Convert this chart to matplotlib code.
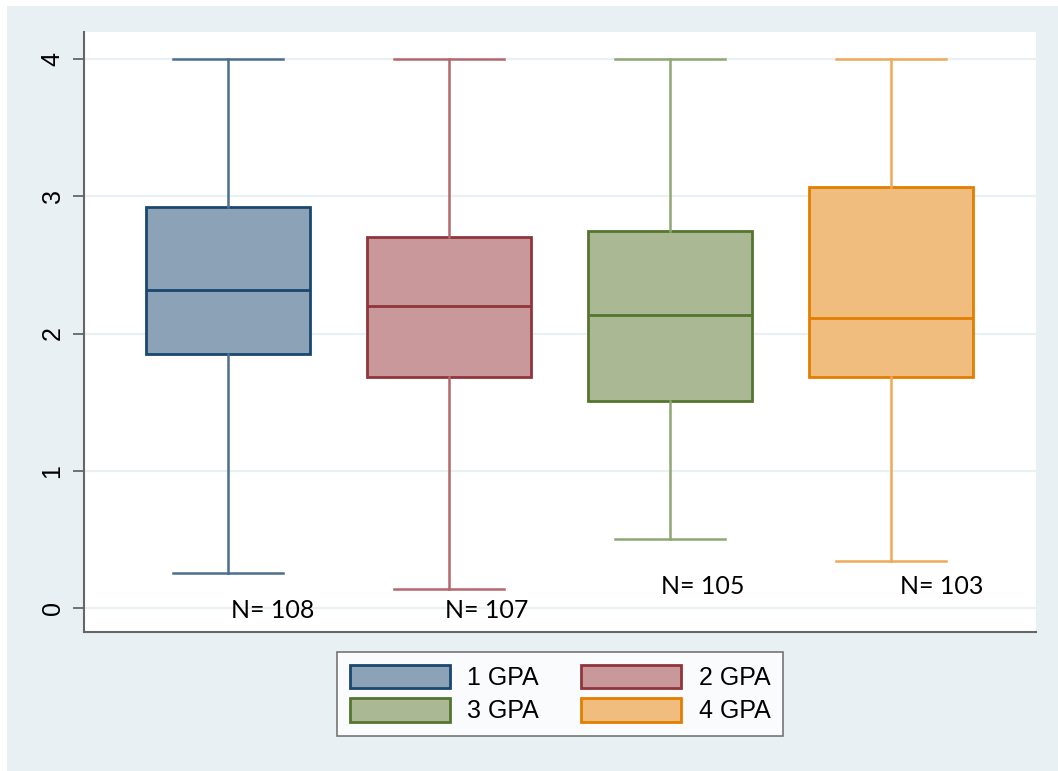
import matplotlib
matplotlib.use('Agg')
import matplotlib.pyplot as plt
from matplotlib.patches import Patch, Rectangle

# GPA distribution by group
groups = ['1 GPA', '2 GPA', '3 GPA', '4 GPA']
q1 = [1.85, 1.685, 1.51, 1.685]
med = [2.315, 2.20, 2.135, 2.115]
q3 = [2.92, 2.70, 2.745, 3.07]
whis_lo = [0.255, 0.14, 0.505, 0.34]
whis_hi = [4.0, 4.0, 4.0, 4.0]
counts = [108, 107, 105, 103]
n_label_y = [-0.02, -0.02, 0.155, 0.155]
n_label_dx = [0.2, 0.17, 0.15, 0.23]

edge_cols = ['#1a476f', '#90353b', '#55752f', '#e37e00']
fill_cols = ['#8ca2b7', '#c8989b', '#aab894', '#f0bd7f']
whisk_cols = ['#4d6d8d', '#b3686e', '#8fa675', '#f0a95a']

bg = '#e8f0f3'
fig = plt.figure(figsize=(10.58, 7.71), dpi=100)
fig.patch.set_facecolor('white')
fig.patches.append(Rectangle((7 / 1058, 0), 1, 1 - 6 / 771, transform=fig.transFigure,
                             facecolor=bg, edgecolor='none', zorder=-10))

ax = fig.add_axes([84 / 1058, 139 / 771, 952 / 1058, 600 / 771])
ax.set_facecolor('white')

for i in range(len(groups)):
    stats = [{'med': med[i], 'q1': q1[i], 'q3': q3[i],
              'whislo': whis_lo[i], 'whishi': whis_hi[i], 'fliers': []}]
    ax.bxp(stats, positions=[i + 1], widths=0.742, capwidths=0.5,
           showfliers=False, patch_artist=True,
           boxprops=dict(facecolor=fill_cols[i], edgecolor=edge_cols[i], linewidth=2),
           medianprops=dict(color=edge_cols[i], linewidth=2),
           whiskerprops=dict(color=whisk_cols[i], linewidth=1.8),
           capprops=dict(color=whisk_cols[i], linewidth=1.8),
           zorder=3)
    ax.text(i + 1 + n_label_dx[i], n_label_y[i], 'N= %d' % counts[i],
            ha='center', va='center', fontsize=18, family='Lato', zorder=4)

ax.set_xlim(0.348, 4.656)
ax.set_ylim(-0.175, 4.197)
ax.set_xticks([])
ax.set_yticks([0, 1, 2, 3, 4])
ax.set_yticklabels(['0', '1', '2', '3', '4'], rotation=90, va='center',
                   fontsize=18, family='Liberation Sans')
ax.tick_params(axis='y', length=8, width=1.3, color='#666666', pad=6)
ax.grid(axis='y', color='#eaf1f4', linewidth=1.6, zorder=0)
ax.set_axisbelow(True)
for s in ['top', 'right']:
    ax.spines[s].set_visible(False)
for s in ['left', 'bottom']:
    ax.spines[s].set_color('#666666')
    ax.spines[s].set_linewidth(1.5)

# legend fills column by column, so order entries to read row-wise
order = [0, 2, 1, 3]
handles = [Patch(facecolor=fill_cols[i], edgecolor=edge_cols[i], linewidth=2)
           for i in order]
labels = [groups[i] for i in order]
leg = fig.legend(handles, labels, ncol=2, loc='center',
                 bbox_to_anchor=(560 / 1058, 1 - 694 / 771),
                 prop={'family': 'Liberation Sans', 'size': 18},
                 handlelength=4.0, handleheight=1.05, handletextpad=0.7,
                 columnspacing=1.7, labelspacing=0.35, borderpad=0.5,
                 borderaxespad=0, fancybox=False, frameon=True)
leg.get_frame().set_edgecolor('#555555')
leg.get_frame().set_linewidth(1.2)
leg.get_frame().set_facecolor('white')

fig.savefig('out.png', dpi=100, facecolor=fig.get_facecolor())
